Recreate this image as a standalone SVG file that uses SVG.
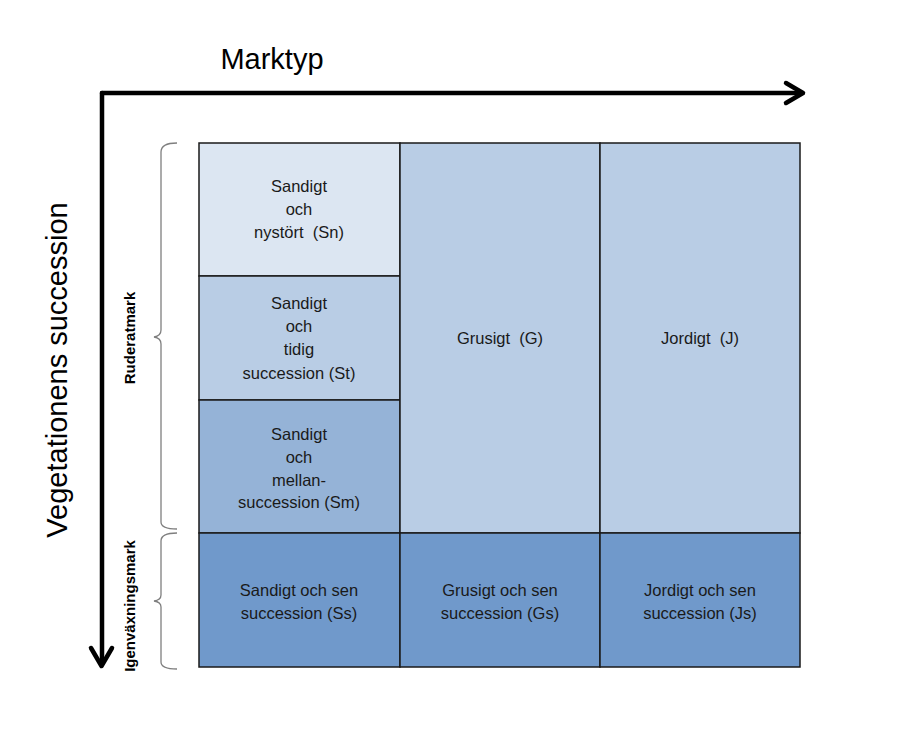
<svg xmlns="http://www.w3.org/2000/svg" width="900" height="748" viewBox="0 0 900 748">
<style>
.cell{stroke:#1a1a1a;stroke-width:1.5}
.t{font-family:"Liberation Sans",Arial,sans-serif;font-size:16.5px;fill:#1a1a1a;text-anchor:middle;white-space:pre}
.lbl{font-family:"Liberation Sans",Arial,sans-serif;font-weight:bold;font-size:15px;fill:#000;text-anchor:middle}
.axis{font-family:"Liberation Sans",Arial,sans-serif;fill:#000;text-anchor:middle}
.brace{fill:none;stroke:#7f7f7f;stroke-width:1.3}
.arr{fill:none;stroke:#000;stroke-width:4.5;stroke-linecap:round;stroke-linejoin:round}
</style>
<rect width="900" height="748" fill="#fff"/>
<g id="connectors">
<path class="arr" d="M102 93 H802"/>
<path class="arr" d="M786 83 L803 93 L786 103"/>
<path class="arr" d="M102 93 V664"/>
<path class="arr" d="M91 648 L101.5 666 L112 648"/>
</g>
<g id="axis-x"><text class="axis" x="272" y="69" font-size="29">Marktyp</text></g>
<g id="axis-y"><text class="axis" transform="translate(67,370) rotate(-90)" font-size="29">Vegetationens succession</text></g>
<g id="brace-ruderat">
<path class="brace" d="M177 143 Q161 143 161 152 V330 Q161 336 154 337 Q161 338 161 344 V522 Q161 529 177 529"/>
<text class="lbl" transform="translate(135,338) rotate(-90)">Ruderatmark</text>
</g>
<g id="brace-igen">
<path class="brace" d="M177 533 Q161 533 161 541 V595 Q161 600 154 601 Q161 602 161 607 V662 Q161 669 177 669"/>
<text class="lbl" transform="translate(135,606) rotate(-90)">Igenväxningsmark</text>
</g>
<g id="Sn">
<rect class="cell" x="199" y="143" width="201" height="133" fill="#DCE6F2"/>
<text class="t" x="299" y="192">Sandigt</text>
<text class="t" x="299" y="215">och</text>
<text class="t" x="299" y="238" xml:space="preserve">nystört  (Sn)</text>
</g>
<g id="St">
<rect class="cell" x="199" y="276" width="201" height="124" fill="#B9CDE5"/>
<text class="t" x="299" y="309">Sandigt</text>
<text class="t" x="299" y="332">och</text>
<text class="t" x="299" y="355">tidig</text>
<text class="t" x="299" y="379">succession (St)</text>
</g>
<g id="Sm">
<rect class="cell" x="199" y="400" width="201" height="133" fill="#95B3D7"/>
<text class="t" x="299" y="440">Sandigt</text>
<text class="t" x="299" y="463">och</text>
<text class="t" x="299" y="486">mellan-</text>
<text class="t" x="299" y="508">succession (Sm)</text>
</g>
<g id="G">
<rect class="cell" x="400" y="143" width="200" height="390" fill="#B9CDE5"/>
<text class="t" x="500" y="344" xml:space="preserve">Grusigt  (G)</text>
</g>
<g id="J">
<rect class="cell" x="600" y="143" width="200" height="390" fill="#B9CDE5"/>
<text class="t" x="700" y="344" xml:space="preserve">Jordigt  (J)</text>
</g>
<g id="Ss">
<rect class="cell" x="199" y="533" width="201" height="134" fill="#7099CB"/>
<text class="t" x="299" y="596">Sandigt och sen</text>
<text class="t" x="299" y="619">succession (Ss)</text>
</g>
<g id="Gs">
<rect class="cell" x="400" y="533" width="200" height="134" fill="#7099CB"/>
<text class="t" x="500" y="596">Grusigt och sen</text>
<text class="t" x="500" y="619">succession (Gs)</text>
</g>
<g id="Js">
<rect class="cell" x="600" y="533" width="200" height="134" fill="#7099CB"/>
<text class="t" x="700" y="596">Jordigt och sen</text>
<text class="t" x="700" y="619">succession (Js)</text>
</g>
</svg>
